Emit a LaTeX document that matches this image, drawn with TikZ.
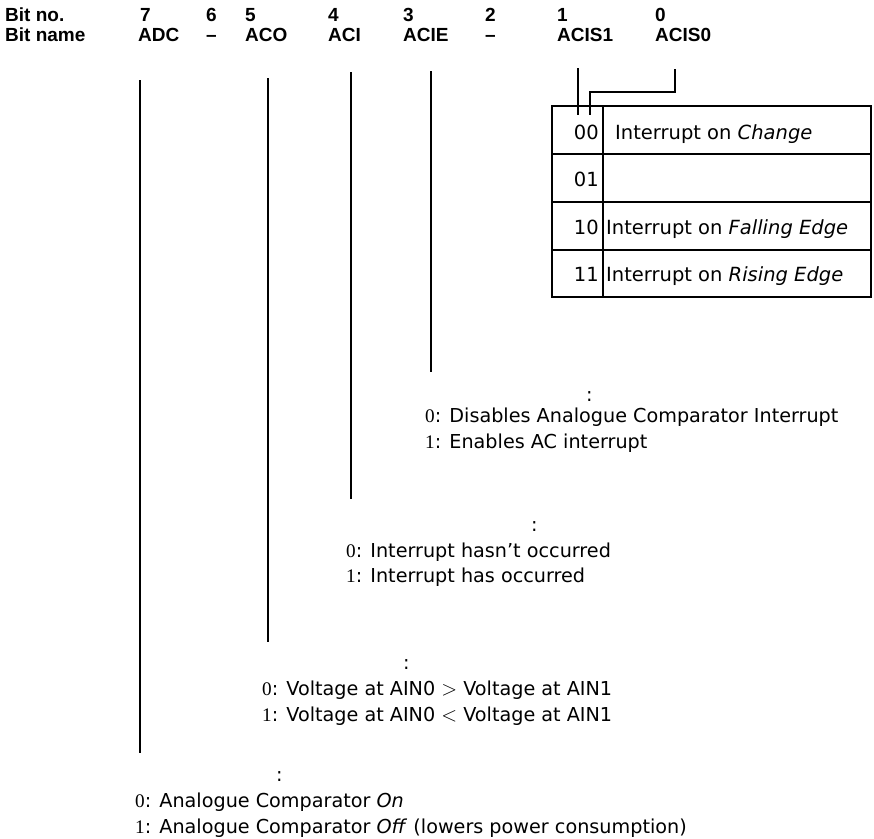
\documentclass[tikz,border=0pt]{standalone}
\usepackage{fontspec}
\setmainfont{DejaVu Sans}
\newfontfamily\hdrfont{Liberation Sans}
\newfontfamily\numfont{Liberation Serif}
\begin{document}
\begin{tikzpicture}[x=1pt,y=-1pt,
  hdr/.style={anchor=base west,inner sep=0pt,font=\hdrfont\bfseries\fontsize{19}{19}\selectfont},
  body/.style={anchor=base west,inner sep=0pt,font=\fontsize{19.2}{19.2}\selectfont},
  cell/.style={anchor=base west,inner sep=0pt,font=\fontsize{19.5}{19.5}\selectfont},
  bitline/.style={line width=1.3pt},
  grid/.style={line width=1.1pt}]
\useasboundingbox (0,0) rectangle (874,838);
% header
\node[hdr] (bitno) at (5,21) {Bit no.};
\node[hdr] (bitname) at (5,41) {Bit name};
\node[hdr] (n7) at (140,21) {7};
\node[hdr] (n6) at (206,21) {6};
\node[hdr] (n5) at (245,21) {5};
\node[hdr] (n4) at (328,21) {4};
\node[hdr] (n3) at (403,21) {3};
\node[hdr] (n2) at (485,21) {2};
\node[hdr] (n1) at (557,21) {1};
\node[hdr] (n0) at (655,21) {0};
\node[hdr] (adc) at (138,41) {ADC};
\node[hdr] (b6) at (206,41) {–};
\node[hdr] (aco) at (245,41) {ACO};
\node[hdr] (aci) at (328,41) {ACI};
\node[hdr] (acie) at (403,41) {ACIE};
\node[hdr] (b2) at (485,41) {–};
\node[hdr] (acis1) at (557,41) {ACIS1};
\node[hdr] (acis0) at (655,41) {ACIS0};
% line end points
\coordinate (adcT) at (140,80);
\coordinate (adcB) at (140,753);
\coordinate (acoT) at (268,78);
\coordinate (acoB) at (268,642);
\coordinate (aciT) at (351,72);
\coordinate (aciB) at (351,499);
\coordinate (acieT) at (431,71);
\coordinate (acieB) at (431,372);
\coordinate (s1T) at (578,68);
\coordinate (s1B) at (578,115);
\coordinate (s0T) at (675,69);
\coordinate (s0M) at (675,92);
\coordinate (s0N) at (590,92);
\coordinate (s0B) at (590,115);
\draw[bitline] (adcT) -- (adcB);
\draw[bitline] (acoT) -- (acoB);
\draw[bitline] (aciT) -- (aciB);
\draw[bitline] (acieT) -- (acieB);
\draw[bitline] (s1T) -- (s1B);
\draw[bitline] (s0T) -- (s0M) -- (s0N) -- (s0B);
% table
\draw[grid] (552,106) rectangle (871,297);
\draw[grid] (603,106) -- (603,297);
\draw[grid] (552,154) -- (871,154);
\draw[grid] (552,202) -- (871,202);
\draw[grid] (552,250) -- (871,250);
\node[cell,anchor=base east] (c00) at (599,139) {00};
\node[cell,anchor=base east] (c01) at (599,186) {01};
\node[cell,anchor=base east] (c10) at (599,234) {10};
\node[cell,anchor=base east] (c11) at (599,281) {11};
\node[cell] (t00) at (615,139) {Interrupt on \textit{Change}};
\node[cell] (t10) at (606,234) {Interrupt on \textit{Falling Edge}};
\node[cell] (t11) at (606,281) {Interrupt on \textit{Rising Edge}};
% ACIE block
\node[body] (acieC) at (586,401) {:};
\node[body] (acie0) at (425,422) {{\numfont 0}: Disables Analogue Comparator Interrupt};
\node[body] (acie1) at (425,448) {{\numfont 1}: Enables AC interrupt};
% ACI block
\node[body] (aciC) at (531,531) {:};
\node[body] (aci0) at (346,557) {{\numfont 0}: Interrupt hasn’t occurred};
\node[body] (aci1) at (346,582) {{\numfont 1}: Interrupt has occurred};
% ACO block
\node[body] (acoC) at (403,669) {:};
\node[body] (aco0) at (262,695) {{\numfont 0}: Voltage at AIN0 $>$ Voltage at AIN1};
\node[body] (aco1) at (262,721) {{\numfont 1}: Voltage at AIN0 $<$ Voltage at AIN1};
% ADC block
\node[body] (adcC) at (276,781) {:};
\node[body] (adc0) at (135,807) {{\numfont 0}: Analogue Comparator \textit{On}};
\node[body] (adc1) at (135,833) {{\numfont 1}: Analogue Comparator \textit{Off} (lowers power consumption)};
\end{tikzpicture}
\end{document}
